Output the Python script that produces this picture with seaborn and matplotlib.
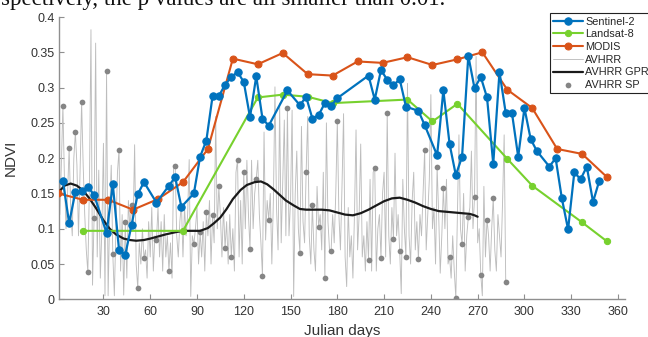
import matplotlib
matplotlib.use("Agg")
import matplotlib.pyplot as plt
import seaborn as sns

# Sentinel-2 NDVI (day of year, value)
s2_days = [4, 8, 12, 16, 20, 24, 32, 36, 40, 44, 48, 52, 56, 64, 72, 76, 80, 88, 92, 96,
           100, 104, 108, 112, 116, 120, 124, 128, 132, 136, 148, 156, 160, 164, 168, 172,
           176, 180, 200, 204, 208, 212, 216, 220, 224, 232, 236, 244, 248, 252, 256, 260,
           264, 268, 272, 276, 280, 284, 288, 292, 296, 300, 304, 308, 316, 320, 324, 328,
           332, 336, 340, 344, 348]
s2_ndvi = [0.168, 0.108, 0.152, 0.153, 0.159, 0.148, 0.094, 0.163, 0.070, 0.063, 0.105,
           0.149, 0.166, 0.137, 0.161, 0.173, 0.131, 0.150, 0.202, 0.225, 0.288, 0.288,
           0.304, 0.315, 0.322, 0.308, 0.258, 0.316, 0.256, 0.246, 0.296, 0.275, 0.287,
           0.256, 0.261, 0.278, 0.274, 0.285, 0.317, 0.283, 0.325, 0.311, 0.303, 0.312,
           0.273, 0.267, 0.247, 0.204, 0.296, 0.220, 0.176, 0.202, 0.345, 0.299, 0.315,
           0.286, 0.192, 0.322, 0.264, 0.264, 0.202, 0.271, 0.227, 0.210, 0.188, 0.200,
           0.143, 0.099, 0.180, 0.170, 0.188, 0.138, 0.168]

# Landsat-8
l8_days = [17, 81, 129, 145, 161, 177, 225, 241, 257, 289, 305, 337, 353]
l8_ndvi = [0.097, 0.097, 0.286, 0.290, 0.287, 0.278, 0.283, 0.252, 0.277, 0.199, 0.161,
           0.109, 0.082]

# MODIS 16-day composites
modis_days = [1, 17, 33, 49, 65, 81, 97, 113, 129, 145, 161, 177, 193, 209, 225, 241,
              257, 273, 289, 305, 321, 337, 353]
modis_ndvi = [0.150, 0.141, 0.141, 0.127, 0.142, 0.166, 0.213, 0.341, 0.333, 0.349, 0.319,
              0.317, 0.337, 0.335, 0.343, 0.332, 0.340, 0.350, 0.297, 0.271, 0.213, 0.206,
              0.173]

# AVHRR daily NDVI, days 1..288
avhrr_days = list(range(1, 289))
avhrr_ndvi = [
    0.16, 0.12, 0.19, 0.274, 0.17, 0.10, 0.15, 0.215, 0.13, 0.09,
    0.20, 0.237, 0.19, 0.09, 0.18, 0.280, 0.19, 0.12, 0.07, 0.038,
    0.16, 0.382, 0.02, 0.115, 0.363, 0.06, 0.183, 0.03, 0.10, 0.221,
    0.005, 0.323, 0.005, 0.12, 0.19, 0.064, 0.005, 0.10, 0.18, 0.212,
    0.04, 0.12, 0.006, 0.109, 0.03, 0.14, 0.10, 0.133, 0.10, 0.219,
    0.05, 0.016, 0.08, 0.05, 0.10, 0.058, 0.07, 0.03, 0.11, 0.06,
    0.13, 0.04, 0.09, 0.084, 0.13, 0.06, 0.11, 0.04, 0.12, 0.06,
    0.09, 0.040, 0.08, 0.03, 0.19, 0.189, 0.09, 0.06, 0.11, 0.136,
    0.06, 0.13, 0.09, 0.12, 0.198, 0.004, 0.09, 0.078, 0.10, 0.13,
    0.05, 0.095, 0.06, 0.11, 0.04, 0.123, 0.09, 0.14, 0.05, 0.119,
    0.08, 0.259, 0.10, 0.160, 0.12, 0.06, 0.13, 0.072, 0.11, 0.05,
    0.12, 0.060, 0.10, 0.04, 0.18, 0.197, 0.06, 0.14, 0.05, 0.180,
    0.10, 0.197, 0.12, 0.071, 0.197, 0.10, 0.15, 0.171, 0.197, 0.12,
    0.08, 0.033, 0.237, 0.084, 0.14, 0.113, 0.15, 0.05, 0.14, 0.301,
    0.13, 0.07, 0.278, 0.08, 0.17, 0.254, 0.09, 0.271, 0.09, 0.14,
    0.268, 0.004, 0.15, 0.21, 0.10, 0.066, 0.245, 0.11, 0.08, 0.180,
    0.259, 0.09, 0.05, 0.134, 0.07, 0.04, 0.16, 0.103, 0.12, 0.07,
    0.18, 0.030, 0.25, 0.11, 0.07, 0.068, 0.12, 0.08, 0.15, 0.253,
    0.12, 0.07, 0.16, 0.263, 0.06, 0.018, 0.13, 0.06, 0.09, 0.03,
    0.12, 0.24, 0.07, 0.12, 0.22, 0.06, 0.09, 0.04, 0.11, 0.056,
    0.17, 0.04, 0.18, 0.186, 0.04, 0.10, 0.12, 0.058, 0.15, 0.18,
    0.06, 0.264, 0.09, 0.05, 0.13, 0.086, 0.207, 0.09, 0.12, 0.068,
    0.008, 0.17, 0.10, 0.060, 0.306, 0.09, 0.05, 0.14, 0.18, 0.07,
    0.11, 0.057, 0.12, 0.09, 0.15, 0.211, 0.07, 0.12, 0.17, 0.29,
    0.10, 0.13, 0.05, 0.188, 0.12, 0.037, 0.09, 0.158, 0.10, 0.17,
    0.05, 0.060, 0.03, 0.09, 0.04, 0.002, 0.12, 0.233, 0.10, 0.078,
    0.15, 0.04, 0.09, 0.116, 0.13, 0.21, 0.10, 0.145, 0.344, 0.08,
    0.10, 0.035, 0.005, 0.16, 0.06, 0.113, 0.09, 0.04, 0.10, 0.144,
    0.07, 0.04, 0.12, 0.09, 0.06, 0.14, 0.233, 0.025,
]

# AVHRR GPR smoothed curve
gpr_days = [1, 5, 9, 13, 17, 21, 25, 30, 34, 38, 43, 47, 51, 56, 60, 65, 70, 76, 81, 86,
            92, 97, 101, 105, 109, 113, 118, 122, 127, 131, 135, 139, 143, 147, 152, 156,
            160, 165, 170, 175, 180, 185, 190, 195, 200, 205, 210, 215, 220, 225, 230, 235,
            240, 245, 250, 255, 260, 265, 268, 270]
gpr_ndvi = [0.151, 0.161, 0.164, 0.161, 0.154, 0.143, 0.130, 0.112, 0.100, 0.092, 0.086,
            0.084, 0.083, 0.084, 0.086, 0.089, 0.092, 0.095, 0.097, 0.097, 0.097, 0.101,
            0.108, 0.116, 0.128, 0.142, 0.155, 0.162, 0.166, 0.167, 0.163, 0.156, 0.148,
            0.140, 0.133, 0.128, 0.127, 0.127, 0.127, 0.126, 0.123, 0.120, 0.119, 0.122,
            0.127, 0.133, 0.139, 0.143, 0.144, 0.141, 0.137, 0.132, 0.128, 0.125, 0.124,
            0.123, 0.122, 0.121, 0.119, 0.117]

# AVHRR SP samples
sp_days = [4, 8, 12, 16, 20, 24, 32, 36, 40, 44, 48, 52, 56, 64, 72, 76, 88, 92, 96, 100,
           104, 108, 112, 116, 120, 124, 128, 132, 136, 148, 156, 160, 164, 168, 172, 176,
           180, 200, 204, 208, 212, 216, 220, 224, 232, 236, 244, 248, 252, 256, 260, 264,
           268, 272, 276, 280, 288]
sp_ndvi = [0.274, 0.215, 0.237, 0.280, 0.038, 0.115, 0.323, 0.064, 0.212, 0.109, 0.133,
           0.016, 0.058, 0.084, 0.040, 0.189, 0.078, 0.095, 0.123, 0.119, 0.160, 0.072,
           0.060, 0.197, 0.180, 0.071, 0.171, 0.033, 0.113, 0.271, 0.066, 0.180, 0.134,
           0.103, 0.030, 0.068, 0.253, 0.056, 0.186, 0.058, 0.264, 0.086, 0.068, 0.060,
           0.057, 0.211, 0.188, 0.158, 0.060, 0.002, 0.078, 0.116, 0.145, 0.035, 0.113,
           0.144, 0.025]

x_ticks = list(range(30, 361, 30))
y_ticks = [0, 0.05, 0.1, 0.15, 0.2, 0.25, 0.3, 0.35, 0.4]

blue = '#0072BD'
green = '#77D12E'
orange = '#D95319'

sns.set_theme(style="white")
plt.rcParams['font.family'] = ['Liberation Sans', 'DejaVu Sans']

fig = plt.figure(figsize=(6.48, 3.37), dpi=100)
ax = fig.add_axes([59 / 648, 1 - 299.3 / 337, 566 / 648, 282.3 / 337])

# AVHRR raw daily line
sns.lineplot(x=avhrr_days, y=avhrr_ndvi, ax=ax, color='#BDBDBD', linewidth=0.65,
             estimator=None, sort=False, label='AVHRR', zorder=1)
sns.scatterplot(x=sp_days, y=sp_ndvi, ax=ax, color='#858585', s=17, linewidth=0,
                label='AVHRR SP', zorder=2)
sns.lineplot(x=gpr_days, y=gpr_ndvi, ax=ax, color='#1A1A1A', linewidth=1.6,
             estimator=None, sort=False, label='AVHRR GPR', zorder=3)

sns.lineplot(x=modis_days, y=modis_ndvi, ax=ax, color=orange, linewidth=1.5, marker='o',
             markersize=5, markeredgecolor=orange, estimator=None, sort=False,
             label='MODIS', zorder=4)
sns.lineplot(x=l8_days, y=l8_ndvi, ax=ax, color=green, linewidth=1.5, marker='o',
             markersize=4.5, markeredgecolor=green, estimator=None, sort=False,
             label='Landsat-8', zorder=5)
sns.lineplot(x=s2_days, y=s2_ndvi, ax=ax, color=blue, linewidth=1.6, marker='o',
             markersize=5.3, markeredgecolor=blue, estimator=None, sort=False,
             label='Sentinel-2', zorder=6)

ax.set_xlim(1.5, 364.5)
ax.set_ylim(0, 0.4)
ax.set_xticks(x_ticks)
ax.set_yticks(y_ticks)
ax.set_yticklabels(['%g' % v for v in y_ticks])

for side in ['top', 'right']:
    ax.spines[side].set_visible(False)
for side in ['left', 'bottom']:
    ax.spines[side].set_color('#8F8F8F')
    ax.spines[side].set_linewidth(1.0)
ax.tick_params(direction='in', length=3.5, width=0.8, color='#8F8F8F',
               labelsize=9, labelcolor='#333333', left=True, bottom=True)
ax.tick_params(axis='x', pad=5)
ax.tick_params(axis='y', pad=3)

ax.set_xlabel('Julian days', fontsize=11, color='#333333')
ax.set_ylabel('NDVI', fontsize=11, color='#333333')
ax.xaxis.set_label_coords(0.5, -0.089)
ax.yaxis.set_label_coords(-0.072, 0.5)

handles, labels = ax.get_legend_handles_labels()
order = ['Sentinel-2', 'Landsat-8', 'MODIS', 'AVHRR', 'AVHRR GPR', 'AVHRR SP']
hmap = dict(zip(labels, handles))
leg = ax.legend([hmap[k] for k in order], order, loc='upper left',
                bbox_to_anchor=(550 / 648, 1 - 13.3 / 337), bbox_transform=fig.transFigure,
                fontsize=7.8, frameon=True, fancybox=False, framealpha=1,
                edgecolor='#222222', borderpad=0.3, labelspacing=0.25,
                handlelength=2.7, handletextpad=0.25, borderaxespad=0)
leg.get_frame().set_linewidth(0.8)

# partial line of the surrounding paper text, cut by the top edge as in the source
fig.text(1 / 648, 1 - 4.5 / 337, 'spectively, the p values are all smaller than 0.01.',
         family=['Liberation Serif', 'DejaVu Serif'], fontsize=16.5, va='baseline',
         ha='left', color='#111111')

fig.savefig('out.png', dpi=100)
